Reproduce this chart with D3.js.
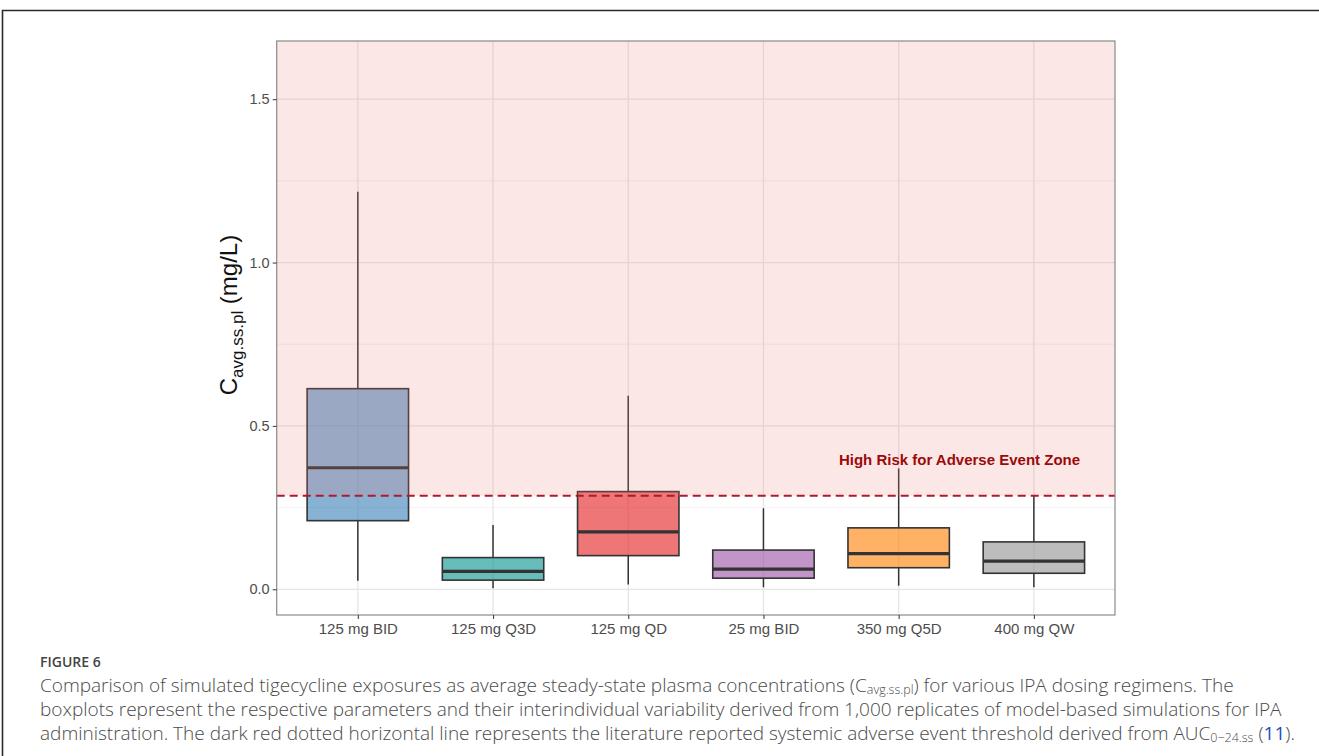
<!DOCTYPE html>
<html>
<head>
<meta charset="utf-8">
<script src="https://cdn.jsdelivr.net/npm/d3@7"></script>
<style>
  html, body { margin: 0; padding: 0; background: #fff; }
  svg { display: block; }
</style>
</head>
<body>
<svg id="chart" width="1319" height="756"></svg>
<script>
// Dosing regimens and five-number summaries of Cavg.ss.pl (mg/L)
const regimens   = ["125 mg BID", "125 mg Q3D", "125 mg QD", "25 mg BID", "350 mg Q5D", "400 mg QW"];
const whiskerLow = [0.026, 0.003, 0.015, 0.006, 0.011, 0.006];
const q1         = [0.210, 0.028, 0.103, 0.034, 0.066, 0.049];
const medians    = [0.372, 0.055, 0.176, 0.062, 0.109, 0.086];
const q3         = [0.614, 0.097, 0.299, 0.120, 0.188, 0.145];
const whiskerHigh= [1.217, 0.197, 0.592, 0.248, 0.370, 0.286];
const boxColors  = ["#377EB8", "#00918C", "#E41A1C", "#984EA3", "#FF7F00", "#919191"];
const threshold  = 0.286;
const yTicks     = [0, 0.5, 1.0, 1.5];
const yMinor     = [0.25, 0.75, 1.25];
const riskLabel  = "High Risk for Adverse Event Zone";

const svg = d3.select("#chart");
const W = 1319, H = 756;

// page frame
svg.append("path")
  .attr("d", `M2.5,${H} V10.5 H${W}`)
  .attr("fill", "none").attr("stroke", "#2a2a2a").attr("stroke-width", 1.6);

const panel = { left: 276.7, right: 1115, top: 41, bottom: 615 };

const x = d3.scalePoint().domain(regimens).range([panel.left, panel.right]).padding(0.6);
const y = d3.scaleLinear().domain([-0.0787, 1.678]).range([panel.bottom, panel.top]);
const boxW = x.step() * 0.75;

const g = svg.append("g");

// panel background
g.append("rect")
  .attr("x", panel.left).attr("y", panel.top)
  .attr("width", panel.right - panel.left).attr("height", panel.bottom - panel.top)
  .attr("fill", "#fff");

// grid lines
g.selectAll("line.minor").data(yMinor).join("line")
  .attr("x1", panel.left).attr("x2", panel.right)
  .attr("y1", d => y(d)).attr("y2", d => y(d))
  .attr("stroke", "#EDEDED").attr("stroke-width", 0.8);
g.selectAll("line.majorY").data(yTicks).join("line")
  .attr("x1", panel.left).attr("x2", panel.right)
  .attr("y1", d => y(d)).attr("y2", d => y(d))
  .attr("stroke", "#E6E6E6").attr("stroke-width", 1.3);
g.selectAll("line.majorX").data(regimens).join("line")
  .attr("y1", panel.top).attr("y2", panel.bottom)
  .attr("x1", d => x(d)).attr("x2", d => x(d))
  .attr("stroke", "#E6E6E6").attr("stroke-width", 1.3);

// boxplots
const rows = regimens.map((r, i) => ({
  r, lo: whiskerLow[i], q1: q1[i], med: medians[i], q3: q3[i], hi: whiskerHigh[i], c: boxColors[i]
}));
const bx = g.selectAll("g.box").data(rows).join("g");
bx.append("line")
  .attr("x1", d => x(d.r)).attr("x2", d => x(d.r))
  .attr("y1", d => y(d.hi)).attr("y2", d => y(d.q3))
  .attr("stroke", "#333").attr("stroke-width", 1.5);
bx.append("line")
  .attr("x1", d => x(d.r)).attr("x2", d => x(d.r))
  .attr("y1", d => y(d.q1)).attr("y2", d => y(d.lo))
  .attr("stroke", "#333").attr("stroke-width", 1.5);
bx.append("rect")
  .attr("x", d => x(d.r) - boxW / 2).attr("width", boxW)
  .attr("y", d => y(d.q3)).attr("height", d => y(d.q1) - y(d.q3))
  .attr("fill", d => d.c).attr("fill-opacity", 0.6)
  .attr("stroke", "#333").attr("stroke-width", 1.6);
bx.append("line")
  .attr("x1", d => x(d.r) - boxW / 2).attr("x2", d => x(d.r) + boxW / 2)
  .attr("y1", d => y(d.med)).attr("y2", d => y(d.med))
  .attr("stroke", "#333").attr("stroke-width", 3.2);

// high-risk zone above threshold
g.append("rect")
  .attr("x", panel.left).attr("y", panel.top)
  .attr("width", panel.right - panel.left).attr("height", y(threshold) - panel.top)
  .attr("fill", "#F08080").attr("fill-opacity", 0.19);

g.append("line")
  .attr("x1", panel.left).attr("x2", panel.right)
  .attr("y1", y(threshold)).attr("y2", y(threshold))
  .attr("stroke", "#B2182B").attr("stroke-width", 2)
  .attr("stroke-dasharray", "8,5");

g.append("text")
  .attr("x", 959.5).attr("y", 464.5)
  .attr("text-anchor", "middle")
  .attr("font-family", "Liberation Sans, Arial, sans-serif")
  .attr("font-weight", "bold").attr("font-size", 15)
  .attr("fill", "#9B0A0A")
  .text(riskLabel);

// panel border
g.append("rect")
  .attr("x", panel.left).attr("y", panel.top)
  .attr("width", panel.right - panel.left).attr("height", panel.bottom - panel.top)
  .attr("fill", "none").attr("stroke", "#8a8a8a").attr("stroke-width", 1.2);

// axes
const yAxis = svg.append("g")
  .attr("transform", `translate(${panel.left},0)`)
  .call(d3.axisLeft(y).tickValues(yTicks).tickFormat(d3.format(".1f")).tickSize(4).tickPadding(3));
const xAxis = svg.append("g")
  .attr("transform", `translate(0,${panel.bottom})`)
  .call(d3.axisBottom(x).tickSize(4).tickPadding(4));
[yAxis, xAxis].forEach(a => {
  a.select(".domain").remove();
  a.selectAll(".tick line").attr("stroke", "#444").attr("stroke-width", 1.1);
  a.selectAll(".tick text")
    .attr("fill", "#4D4D4D")
    .attr("font-family", "Liberation Sans, Arial, sans-serif")
    .attr("font-size", 14.5);
});
xAxis.selectAll(".tick text").attr("font-size", 15);

// y axis title with subscript
const yt = svg.append("text")
  .attr("transform", `translate(237,315) rotate(-90)`)
  .attr("text-anchor", "middle")
  .attr("font-family", "Liberation Sans, Arial, sans-serif")
  .attr("font-size", 24).attr("fill", "#111");
yt.append("tspan").text("C");
yt.append("tspan").attr("font-size", 17).attr("dy", 6).text("avg.ss.pl");
yt.append("tspan").attr("dy", -6).text(" (mg/L)");

// figure caption
const capFont = "Open Sans, Noto Sans, sans-serif";
svg.append("text")
  .attr("x", 40).attr("y", 667)
  .attr("font-family", capFont).attr("font-weight", 600)
  .attr("font-size", 14).attr("fill", "#444")
  .text("FIGURE 6");

const capLines = [
  [["Comparison of simulated tigecycline exposures as average steady-state plasma concentrations (C", ""], ["avg.ss.pl", "sub"], [") for various IPA dosing regimens. The", ""]],
  [["boxplots represent the respective parameters and their interindividual variability derived from 1,000 replicates of model-based simulations for IPA", ""]],
  [["administration. The dark red dotted horizontal line represents the literature reported systemic adverse event threshold derived from AUC", ""], ["0\u221224.ss", "sub"], [" (", ""], ["11", "link"], [").", ""]]
];
capLines.forEach((parts, i) => {
  const t = svg.append("text")
    .attr("x", 40).attr("y", 692 + i * 24)
    .attr("font-family", capFont).attr("font-weight", 300)
    .attr("font-size", 19).attr("fill", "#4a4a4a");
  let prevSub = false;
  parts.forEach(([s, kind]) => {
    const sp = t.append("tspan").text(s);
    if (kind === "sub") { sp.attr("font-size", 12.5).attr("dy", 2); prevSub = true; }
    else {
      if (prevSub) { sp.attr("dy", -2); prevSub = false; }
      if (kind === "link") sp.attr("fill", "#1F4FB4").attr("font-weight", 400);
    }
  });
});
</script>
</body>
</html>
